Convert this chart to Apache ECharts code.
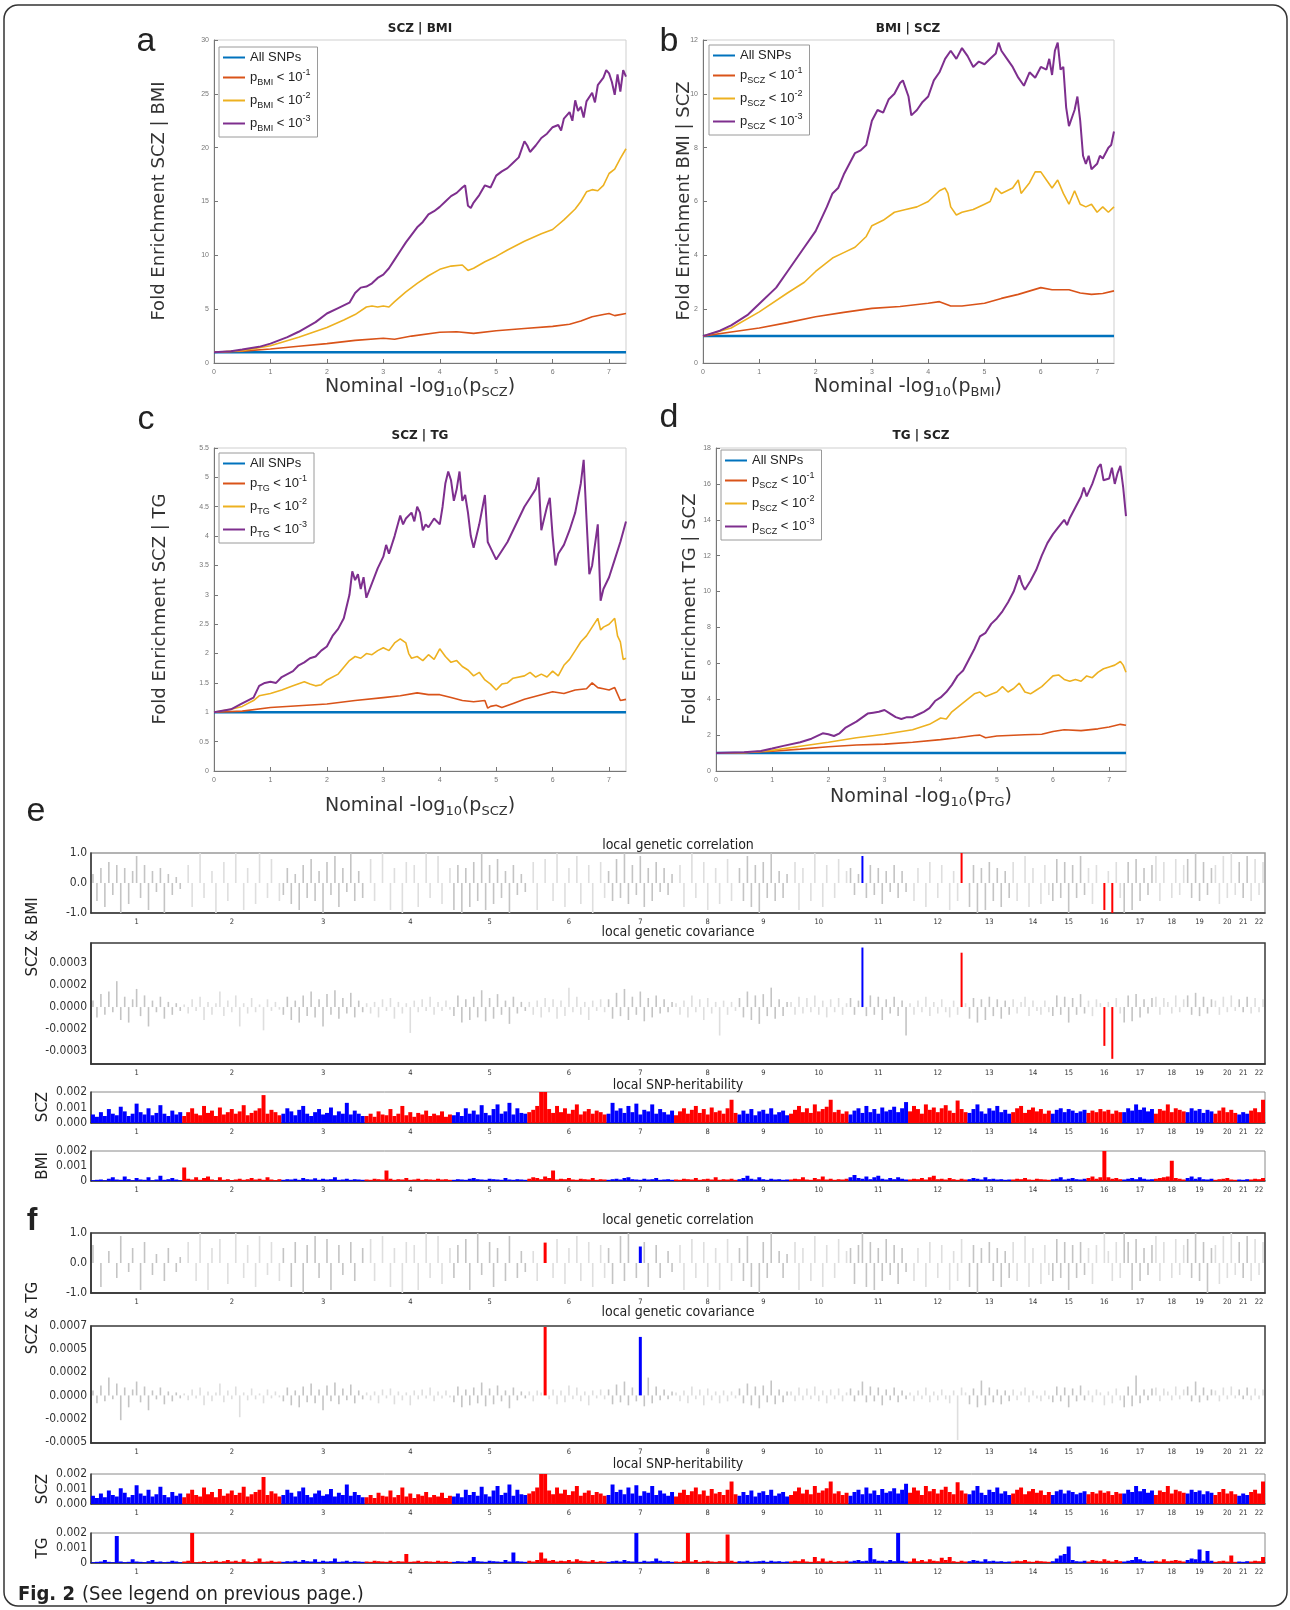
<!DOCTYPE html>
<html>
<head>
<meta charset="utf-8">
<script src="https://cdn.jsdelivr.net/npm/echarts@6/dist/echarts.min.js"></script>
<style>
html,body{margin:0;padding:0;background:#fff;}
#chart{width:1290px;height:1610px;}
</style>
</head>
<body>
<div id="chart"></div>
<script>
// ===== Panels a-d: fold enrichment, points [nominal -log10 p, fold enrichment] =====
const allSNPs = [[0,1],[7.3,1]];

const a_p1 = [[0,1],[0.5,1.1],[1,1.3],[1.5,1.55],[2,1.8],[2.5,2.1],[3,2.3],[3.2,2.2],[3.5,2.5],[4,2.85],[4.3,2.9],[4.6,2.75],[5,3.0],[5.5,3.2],[6,3.4],[6.3,3.6],[6.5,3.9],[6.7,4.3],[6.9,4.5],[7.0,4.6],[7.1,4.4],[7.3,4.6]];
const a_p2 = [[0,1],[0.5,1.15],[1,1.6],[1.5,2.4],[2,3.3],[2.3,4.0],[2.5,4.5],[2.7,5.2],[2.8,5.3],[2.9,5.2],[3.0,5.3],[3.1,5.2],[3.2,5.7],[3.4,6.6],[3.6,7.4],[3.8,8.1],[4.0,8.7],[4.2,9.0],[4.4,9.1],[4.5,8.6],[4.6,8.8],[4.8,9.4],[5.0,9.9],[5.2,10.5],[5.5,11.3],[5.8,12.0],[6.0,12.4],[6.2,13.3],[6.4,14.3],[6.5,15.0],[6.6,15.9],[6.7,16.1],[6.8,16.0],[6.9,16.5],[7.0,17.6],[7.1,18.0],[7.2,19.0],[7.3,19.9]];
const a_p3 = [[0,1],[0.3,1.1],[0.5,1.25],[0.8,1.5],[1,1.8],[1.3,2.4],[1.5,2.9],[1.8,3.8],[2,4.6],[2.2,5.1],[2.4,5.6],[2.5,6.5],[2.6,7.0],[2.7,7.1],[2.8,7.4],[2.9,7.9],[3,8.2],[3.1,8.8],[3.2,9.6],[3.3,10.4],[3.4,11.2],[3.5,11.9],[3.6,12.6],[3.7,13.1],[3.8,13.8],[3.9,14.1],[4,14.5],[4.1,15.0],[4.2,15.5],[4.3,15.8],[4.4,16.3],[4.45,16.5],[4.5,14.6],[4.55,14.4],[4.6,14.9],[4.7,15.6],[4.8,16.5],[4.9,16.3],[5,17.4],[5.1,17.8],[5.2,18.1],[5.3,18.6],[5.4,19.1],[5.5,20.6],[5.55,20.2],[5.6,19.6],[5.7,20.2],[5.8,20.9],[5.9,21.3],[6,21.9],[6.1,22.1],[6.15,21.6],[6.2,22.7],[6.3,23.3],[6.35,22.5],[6.4,24.4],[6.45,23.4],[6.5,23.8],[6.55,22.8],[6.6,24.3],[6.7,25.1],[6.75,24.2],[6.8,25.8],[6.9,26.5],[6.95,27.2],[7.0,26.9],[7.05,26.1],[7.1,24.9],[7.15,26.8],[7.2,25.2],[7.25,27.2],[7.3,26.6]];

const b_p1 = [[0,1],[0.5,1.15],[1,1.3],[1.5,1.5],[2,1.72],[2.5,1.88],[3,2.03],[3.5,2.1],[4,2.22],[4.2,2.28],[4.4,2.12],[4.6,2.12],[5,2.22],[5.3,2.4],[5.6,2.55],[6,2.8],[6.2,2.72],[6.5,2.72],[6.7,2.6],[6.9,2.55],[7.1,2.58],[7.3,2.68]];
const b_p2 = [[0,1],[0.5,1.3],[1,1.9],[1.5,2.6],[1.8,3.0],[2,3.4],[2.3,3.9],[2.5,4.1],[2.7,4.3],[2.9,4.7],[3.0,5.1],[3.2,5.3],[3.4,5.6],[3.6,5.7],[3.8,5.8],[4.0,6.0],[4.2,6.4],[4.3,6.5],[4.35,6.3],[4.4,5.8],[4.5,5.5],[4.6,5.6],[4.8,5.7],[5.0,5.9],[5.1,6.0],[5.2,6.5],[5.3,6.3],[5.5,6.5],[5.6,6.8],[5.65,6.3],[5.8,6.7],[5.9,7.1],[6.0,7.1],[6.1,6.8],[6.2,6.5],[6.3,6.8],[6.4,6.3],[6.5,5.9],[6.6,6.4],[6.7,5.9],[6.8,5.8],[6.9,5.9],[7.0,5.6],[7.1,5.8],[7.2,5.6],[7.3,5.8]];
const b_p3 = [[0,1],[0.3,1.2],[0.5,1.4],[0.8,1.8],[1,2.2],[1.3,2.8],[1.5,3.4],[1.8,4.3],[2,4.9],[2.2,5.8],[2.3,6.3],[2.4,6.5],[2.5,7.0],[2.7,7.8],[2.8,7.9],[2.9,8.1],[3.0,9.0],[3.1,9.4],[3.2,9.3],[3.3,9.8],[3.4,10.0],[3.5,10.4],[3.55,10.5],[3.65,9.9],[3.7,9.2],[3.8,9.4],[3.9,9.7],[4.0,9.9],[4.1,10.5],[4.2,10.8],[4.3,11.3],[4.4,11.6],[4.5,11.3],[4.6,11.7],[4.7,11.4],[4.8,11.0],[4.9,11.2],[5.0,11.1],[5.1,11.3],[5.2,11.5],[5.25,11.9],[5.3,11.6],[5.4,11.3],[5.5,11.0],[5.6,10.6],[5.7,10.3],[5.8,10.8],[5.9,10.6],[6.0,11.0],[6.1,10.9],[6.15,11.3],[6.2,10.7],[6.25,11.6],[6.3,11.9],[6.35,10.9],[6.4,11.0],[6.45,9.5],[6.5,8.8],[6.6,9.4],[6.65,9.9],[6.7,9.0],[6.75,7.7],[6.8,7.4],[6.85,7.7],[6.9,7.2],[7.0,7.4],[7.05,7.7],[7.1,7.6],[7.2,8.0],[7.25,8.1],[7.3,8.6]];

const c_p1 = [[0,1],[0.5,1.02],[1,1.08],[1.5,1.11],[2,1.14],[2.5,1.2],[3,1.25],[3.3,1.28],[3.6,1.33],[3.8,1.3],[4.0,1.3],[4.2,1.25],[4.4,1.2],[4.6,1.18],[4.8,1.2],[4.85,1.07],[4.9,1.1],[5.0,1.12],[5.1,1.08],[5.3,1.15],[5.5,1.22],[5.8,1.3],[6.0,1.35],[6.2,1.32],[6.4,1.38],[6.6,1.4],[6.7,1.5],[6.8,1.42],[6.9,1.4],[7.0,1.38],[7.1,1.42],[7.2,1.2],[7.3,1.22]];
const c_p2 = [[0,1],[0.3,1.05],[0.5,1.1],[0.7,1.2],[0.8,1.28],[1,1.32],[1.2,1.38],[1.4,1.45],[1.6,1.52],[1.7,1.48],[1.8,1.45],[1.9,1.47],[2.0,1.55],[2.2,1.65],[2.4,1.88],[2.5,1.95],[2.6,1.92],[2.7,2.0],[2.8,1.98],[2.9,2.05],[3.0,2.1],[3.1,2.05],[3.2,2.18],[3.3,2.25],[3.4,2.18],[3.45,2.0],[3.5,1.92],[3.6,1.95],[3.7,1.88],[3.8,1.98],[3.9,1.9],[4.0,2.08],[4.1,1.95],[4.2,1.85],[4.3,1.88],[4.4,1.78],[4.5,1.72],[4.6,1.62],[4.7,1.68],[4.8,1.55],[4.9,1.48],[5.0,1.38],[5.1,1.48],[5.2,1.5],[5.3,1.58],[5.5,1.62],[5.6,1.68],[5.7,1.6],[5.8,1.65],[5.9,1.6],[6.0,1.7],[6.1,1.62],[6.2,1.8],[6.3,1.9],[6.4,2.05],[6.5,2.2],[6.6,2.3],[6.7,2.45],[6.8,2.6],[6.85,2.4],[6.9,2.45],[7.0,2.5],[7.1,2.6],[7.15,2.3],[7.2,2.2],[7.25,1.9],[7.3,1.92]];
const c_p3 = [[0,1],[0.3,1.05],[0.5,1.15],[0.7,1.25],[0.8,1.45],[0.9,1.5],[1,1.52],[1.1,1.5],[1.2,1.6],[1.4,1.7],[1.5,1.8],[1.6,1.85],[1.7,1.92],[1.8,1.95],[1.9,2.05],[2,2.12],[2.1,2.3],[2.2,2.42],[2.3,2.6],[2.4,3.0],[2.45,3.4],[2.5,3.25],[2.55,3.35],[2.6,3.1],[2.65,3.3],[2.7,2.95],[2.8,3.2],[2.9,3.45],[3.0,3.65],[3.05,3.85],[3.1,3.7],[3.2,4.0],[3.3,4.35],[3.35,4.2],[3.4,4.3],[3.5,4.4],[3.55,4.25],[3.6,4.5],[3.65,4.4],[3.7,4.1],[3.75,4.2],[3.8,4.15],[3.9,4.3],[4.0,4.2],[4.05,4.5],[4.1,4.9],[4.15,5.1],[4.2,4.95],[4.25,4.6],[4.3,4.8],[4.35,5.1],[4.4,4.6],[4.45,4.7],[4.5,4.4],[4.55,4.0],[4.6,3.8],[4.7,4.2],[4.8,4.7],[4.85,3.9],[4.9,3.8],[5.0,3.6],[5.1,3.75],[5.2,3.9],[5.3,4.1],[5.4,4.3],[5.5,4.5],[5.6,4.65],[5.7,4.8],[5.75,5.0],[5.8,4.1],[5.9,4.5],[5.95,4.65],[6.0,4.0],[6.05,3.5],[6.1,3.7],[6.2,3.85],[6.3,4.1],[6.4,4.4],[6.5,4.9],[6.55,5.3],[6.6,4.3],[6.65,3.35],[6.7,3.5],[6.8,4.2],[6.85,2.9],[6.9,3.1],[7.0,3.3],[7.1,3.6],[7.2,3.9],[7.3,4.25]];

const d_p1 = [[0,1],[0.5,1.02],[1,1.1],[1.5,1.22],[2,1.35],[2.5,1.45],[3,1.5],[3.5,1.6],[4,1.75],[4.3,1.85],[4.6,1.98],[4.7,2.0],[4.8,1.85],[5,1.95],[5.5,2.02],[5.8,2.05],[6,2.2],[6.2,2.3],[6.5,2.25],[6.8,2.35],[7.0,2.45],[7.2,2.6],[7.3,2.55]];
const d_p2 = [[0,1],[0.5,1.02],[1,1.15],[1.5,1.38],[2,1.6],[2.5,1.85],[3,2.05],[3.5,2.3],[3.8,2.6],[4.0,2.95],[4.1,2.9],[4.2,3.3],[4.4,3.8],[4.6,4.3],[4.7,4.4],[4.8,4.15],[5.0,4.4],[5.1,4.7],[5.2,4.4],[5.3,4.6],[5.4,4.9],[5.5,4.4],[5.6,4.3],[5.7,4.5],[5.8,4.7],[5.9,5.0],[6.0,5.3],[6.1,5.35],[6.2,5.1],[6.3,5.0],[6.4,5.1],[6.5,5.0],[6.6,5.3],[6.7,5.2],[6.8,5.5],[6.9,5.7],[7.0,5.8],[7.1,5.9],[7.2,6.1],[7.25,5.9],[7.3,5.5]];
const d_p3 = [[0,1],[0.5,1.05],[0.8,1.12],[1,1.25],[1.2,1.4],[1.5,1.6],[1.7,1.8],[1.9,2.1],[2.0,2.05],[2.1,1.95],[2.2,2.1],[2.3,2.4],[2.5,2.75],[2.7,3.2],[2.8,3.25],[2.9,3.3],[3.0,3.4],[3.1,3.2],[3.2,3.0],[3.3,2.9],[3.4,3.0],[3.5,3.0],[3.6,3.15],[3.7,3.3],[3.8,3.5],[3.9,3.9],[4.0,4.1],[4.1,4.4],[4.2,4.8],[4.3,5.3],[4.4,5.6],[4.5,6.2],[4.6,6.8],[4.7,7.5],[4.8,7.7],[4.9,8.2],[5.0,8.5],[5.1,8.9],[5.2,9.4],[5.3,10.0],[5.4,10.9],[5.45,10.4],[5.5,10.1],[5.6,10.6],[5.7,11.2],[5.8,12.0],[5.9,12.7],[6.0,13.2],[6.1,13.6],[6.2,14.0],[6.25,13.7],[6.3,14.1],[6.4,14.7],[6.5,15.3],[6.55,15.8],[6.6,15.3],[6.7,16.0],[6.8,16.9],[6.85,17.1],[6.9,16.2],[7.0,16.3],[7.05,16.9],[7.1,16.0],[7.15,16.6],[7.2,17.0],[7.25,15.8],[7.3,14.2]];

// ===== Panels e-f: loci along the genome, one inner list per chromosome =====
const chromLabels = ['1','2','3','4','5','6','7','8','9','10','11','12','13','14','15','16','17','18','19','20','21','22'];

// local SNP-heritability SCZ (units of 1e-5)
const h2SCZ_e5 = [
[55,40,70,45,90,60,50,105,75,45,60,125,70,55,95,50,65,115,60,45,80,55,70],
[45,70,95,60,50,110,65,80,45,100,55,70,90,60,75,115,50,65,80,95,180,60,85,70,50],
[60,95,75,50,85,110,60,45,70,90,55,65,100,50,75,60,130,55,80,60,45],
[45,60,40,75,55,50,90,45,60,110,50,70,40,65,55,80,45,60,50,75,40,55],
[50,70,45,95,60,80,55,115,65,50,90,120,60,75,130,55,95,65,60],
[70,85,110,240,200,90,65,110,70,95,60,85,120,55,75,90,60,80,70,55],
[60,130,80,95,65,110,70,125,55,85,75,120,60,90,70,55,80],
[50,75,95,60,85,110,65,90,55,100,70,80,60,95,150,65],
[55,80,60,90,50,75,85,60,95,55,70,80,50],
[60,85,110,70,95,65,120,75,90,105,150,70,85,60,75],
[55,80,95,65,110,70,90,60,100,75,85,105,70,95,135],
[75,110,90,60,120,85,100,70,95,115,80,65,145,90,70],
[65,90,120,75,60,95,80,110,70,85,60],
[70,95,110,65,85,100,75,90,60,80],
[60,85,95,70,90,80,65,75,85],
[65,80,70,90,75,85,60,80,70],
[70,95,80,120,85,100,75,90],
[60,90,80,120,70,95,85,75],
[70,95,80,90,65,85,75],
[60,80,100,70,85,65],
[55,70,60],
[80,95,70,150]];

// local SNP-heritability BMI (units of 1e-5)
const h2BMI_e5 = [
[5,8,10,5,15,25,10,8,30,12,5,20,10,8,25,5,10,35,8,12,20,10,5],
[90,15,10,25,8,20,30,10,5,25,8,12,6,10,15,8,12,20,10,15,8,25,10,6,12],
[8,12,10,15,8,20,12,10,18,8,15,10,12,25,8,10,15,8,12,10,8],
[10,8,15,12,10,70,15,8,12,10,20,8,10,15,8,12,10,8,15,10,12,8],
[8,12,10,8,15,20,12,10,8,15,12,10,8,20,10,8,12,10,8],
[15,25,20,12,30,20,70,10,15,12,20,10,8,15,12,10,20,8,12,10],
[8,12,15,10,20,25,12,10,8,15,10,12,20,8,10,12,8],
[10,8,15,12,10,20,8,12,15,10,25,8,12,10,15,8],
[12,20,35,15,10,25,12,8,15,10,12,8,10],
[10,15,12,25,10,8,20,12,30,10,15,8,12,10,15],
[25,40,20,15,30,12,25,35,15,10,20,12,25,15,10],
[10,15,12,20,10,25,35,12,15,10,20,12,8,15,10],
[12,20,15,10,25,12,15,10,12,8,10],
[10,15,12,20,10,8,15,12,10,8],
[12,15,25,10,15,20,12,10,15],
[20,30,15,25,200,25,15,20,12],
[10,15,20,12,25,15,10,12],
[15,20,25,30,135,20,15,10],
[20,30,15,25,12,10,15],
[8,12,15,20,10,8],
[10,8,12],
[10,15,12,20]];

// local SNP-heritability TG (units of 1e-5)
const h2TG_e5 = [
[5,8,10,20,8,5,180,10,5,8,25,10,8,5,12,20,8,10,5,8,15,10,5],
[10,15,205,5,8,12,6,10,15,8,12,20,10,15,8,25,10,6,12,30,8,10,15,8,10],
[8,12,10,15,8,20,12,10,25,8,15,10,12,30,8,10,15,8,12,10,8],
[10,8,15,12,10,8,15,8,12,10,60,8,10,15,8,12,10,8,15,10,12,8],
[8,12,10,8,15,40,12,10,8,15,12,10,8,20,10,70,12,10,8],
[15,10,20,70,30,15,20,10,15,12,20,10,25,15,12,10,20,8,12,10],
[8,12,15,10,20,12,10,200,8,15,10,12,30,15,10,12,8],
[10,8,15,200,10,20,8,12,15,10,8,12,10,190,15,8],
[12,10,15,8,10,12,15,8,15,10,12,8,10],
[10,15,12,25,10,8,40,12,30,10,15,8,12,10,15],
[10,15,20,12,15,100,25,15,15,10,20,12,200,15,10],
[10,30,12,20,10,25,15,12,35,20,40,12,8,15,10],
[12,20,15,10,25,12,15,10,12,8,10],
[10,15,12,20,10,8,15,12,10,8],
[12,30,50,60,110,20,12,10,15],
[10,20,15,12,25,15,10,20,12],
[10,15,20,40,25,15,10,12],
[15,10,25,12,15,20,15,10],
[20,30,25,90,15,80,15],
[8,12,15,10,50,8],
[10,8,12],
[10,15,12,40]];

// local genetic correlation SCZ & BMI
const corrE = [
[.3,-.6,.5,-.8,.7,-.4,.6,-1,.5,-.7,.4,.9,-.5,.6,-.9,.4,-.3,.5,-1,.3,-.4,.2,-.2],
[0,.6,-.8,0,1,-.5,0,.4,-1,0,.7,-.6,0,1,0,-.9,.5,0,-.7,1,0,-.5,.8,0,-.6],
[-.4,.5,-.7,.3,-.9,.6,-.5,.8,-.6,.4,-1,.7,-.4,.9,-.8,.5,-.3,1,-.6,.4,-.5],
[0,.8,-.6,0,1,0,-.9,.5,0,-1,.7,0,.6,-.8,0,1,-.5,0,.9,-.7,0,.5],
[-.9,.6,-1,.5,-.8,.7,-.6,1,-.9,.6,-.7,.8,-.5,.4,-1,.6,-.4,.3,-.3],
[0,.7,-.9,0,.8,0,-.6,1,0,-.8,.5,0,.9,-.7,0,.6,-1,0,.7,-.5],
[.4,-.6,.8,-.5,1,-.7,.6,-.4,.9,-.8,.5,-.6,.7,-.3,.5,-.4,.3],
[0,.6,-.8,0,1,-.5,0,.7,-.9,0,.5,-.7,0,.8,-.6,0],
[.5,-.6,.9,-.8,.6,-1,.7,-.5,1,-.6,.4,-.5,.3],
[0,.7,-.9,.5,0,-.6,1,0,-.8,.6,0,-.5,.8,0,.4],
[.5,-.4,.3,.9,-.5,.6,-.4,.5,-.7,.4,-.3,.6,-.5,.4,-.3],
[0,-.6,.5,0,-.8,.7,0,-.5,.6,0,-.9,.4,-.6,1,0],
[-.8,.6,-1,.5,-.9,.7,-.6,.5,-.8,.4,-.5],
[.7,-.6,0,.9,-.8,.5,0,-.7,.6,-.4],
[-.6,.8,-.5,.7,-1,.6,-.5,.9,-.4],
[.5,-.7,.6,0,-.9,.4,-1,.7,-.5],
[-1,.7,-.9,.8,-.6,.5,-.4,.6],
[.9,-.6,.7,0,-.5,.8,-.4,.6],
[.8,-.5,1,-.6,.7,-.4,.5],
[.6,-.7,.9,-.5,1,-.4],
[.7,-.5,.9],
[-.6,.8,-.4,.7]];

// local genetic covariance SCZ & BMI (units of 1e-5)
const covE_e5 = [
[5,-8,10,-6,12,-4,20,-10,8,-12,6,14,-7,9,-15,5,-4,8,-9,4,-6,3,-3],
[2,-5,6,-3,8,-10,4,-6,3,12,-7,5,-4,9,-15,3,-5,7,-4,2,-18,6,-3,4,-2],
[-6,8,-10,5,-12,9,-7,12,-8,6,-15,10,-6,13,-9,7,-5,11,-8,5,-4],
[3,-5,4,-8,6,-3,7,-9,4,-5,3,-20,5,-4,6,-3,8,-6,4,-3,5,-2],
[-7,9,-12,6,-10,8,-8,13,-11,7,-9,10,-6,5,-13,8,-5,4,-3],
[4,-6,5,-8,7,-4,6,-9,5,-7,15,-4,8,-6,4,-10,5,-3,6,-4],
[6,-9,11,-7,14,-10,8,-6,12,-11,7,-8,9,-5,6,-4,4],
[3,-6,5,-8,9,-4,6,-10,7,-5,4,-22,5,-6,4,-3],
[7,-8,12,-10,9,-13,10,-7,15,-9,6,-7,4],
[4,-6,8,-5,7,-4,9,-6,5,-8,6,-4,7,-6,3],
[7,-6,5,46,-7,9,-6,8,-10,6,-5,8,-7,5,-22],
[3,-6,5,-4,8,-7,4,-5,6,-4,-8,5,-6,42,3],
[-9,7,-12,6,-10,8,-7,6,-9,5,-6],
[6,-5,4,8,-7,5,-3,-6,5,-4],
[-7,9,-6,8,-12,7,-6,10,-5],
[5,-7,6,3,-30,4,-40,7,-5],
[-12,9,-11,10,-8,6,-5,7],
[8,-6,7,4,-5,9,-4,6],
[9,-6,11,-7,8,-5,6],
[5,-6,8,-4,9,-3],
[6,-4,8],
[-5,7,-4,6]];

// local genetic correlation SCZ & TG
const corrF = [
[.6,0,-.8,0,.4,0,-.5,.9,0,-.3,.5,0,-.9,.7,0,-.4,.3,0,-.6,.5,0,-.3,.2],
[0,.7,0,-.6,1,0,-.9,.5,0,.8,0,-.7,0,1,0,-.5,.6,0,-.8,.9,0,-.4,.7,0,-.6],
[.5,0,-.8,.7,0,-1,.6,0,.9,-.5,0,.8,-.9,0,.6,-.4,0,.7,-.6,0,.5],
[0,.8,-.6,0,.9,0,-.8,.5,0,-1,.7,0,.6,-.9,0,1,-.5,0,.9,-.7,0,.5],
[-.5,.6,0,.8,-.9,0,1,-.4,0,.7,-.8,.5,0,-.6,.9,0,-.5,.4,-.3],
[0,.4,-.6,0,.68,0,-.5,.8,0,-.7,.5,0,.9,-.6,0,.7,-.8,0,.6,-.5],
[.5,-.7,0,.9,-.6,1,0,-.5,.55,.7,-.8,0,.6,-.5,0,.4,-.3],
[0,.6,-.9,0,.8,-.5,0,.7,-.8,0,.5,-.9,0,.8,-.6,0],
[.5,-.6,.9,-.8,0,-1,.7,-.5,1,0,.4,-.5,.3],
[0,.7,-.9,.5,0,-.6,.9,0,-.8,.6,0,-.5,.8,0,.4],
[.5,-.7,.6,1,-.8,.7,-.9,.5,-.6,.8,-.4,.6,-.7,.5,-.3],
[0,-.6,.5,0,-.8,.7,0,-.5,.6,0,-.9,.4,-.6,.8,0],
[-.8,.6,-1,.5,0,.7,-.6,.5,-.8,.4,-.5],
[.7,-.6,0,.9,-.8,.5,0,-.7,.6,-.4],
[-.6,.8,-.5,.7,-.9,.6,-.5,.7,-.4],
[.5,-.7,.6,0,1,.4,-.6,.7,-.5],
[1,.7,-.9,.8,-.6,.5,-.4,.6],
[.9,-.6,.7,0,-.5,.8,-.4,.6],
[.8,-.5,1,-.6,.7,-1,.5],
[.6,-.7,.9,-.5,1,-.4],
[.7,-.5,.9],
[-.6,.8,-.4,.7]];

// local genetic covariance SCZ & TG (units of 1e-5)
const covF_e5 = [
[5,-8,10,-6,18,-4,12,-25,8,-12,6,14,-7,9,-15,5,-4,8,-9,4,-6,3,-3],
[2,-5,6,-3,8,-10,4,-6,3,12,-7,5,-4,9,-22,3,-5,7,-4,2,-8,6,-3,4,-2],
[-6,8,-10,5,-12,9,-7,12,-8,6,-15,10,-6,13,-9,7,-5,11,-8,5,-4],
[3,-5,4,-8,6,-3,7,-9,4,-5,3,-10,5,-4,6,-3,8,-6,4,-3,5,-2],
[-7,9,-12,6,-10,8,-8,13,-11,7,-9,10,-6,5,-13,8,-5,4,-3],
[4,-6,5,3,69,-4,6,-9,5,-7,10,-4,8,-6,4,-10,5,-3,6,-4],
[6,-9,11,-7,14,-10,8,-6,59,-11,18,-8,9,-5,6,-4,4],
[3,-6,5,-8,9,-4,6,-10,7,-5,4,-8,5,-6,4,-3],
[7,-8,12,-10,9,-13,10,-7,15,-9,6,-7,4],
[4,-6,8,-5,7,-4,9,-6,5,-8,6,-4,7,-6,3],
[7,-6,5,14,-7,9,-6,8,-10,6,-5,8,-7,5,-4],
[3,-6,5,-4,8,-7,4,-5,6,-4,-8,5,-45,8,3],
[-9,7,-12,15,-10,8,-7,6,-9,5,-6],
[6,-5,4,8,-7,5,-3,-6,5,-4],
[-7,9,-6,8,-12,7,-6,10,-5],
[5,-7,6,3,-10,4,-8,7,-5],
[-12,9,-11,20,-8,6,-5,7],
[8,-6,7,4,-5,9,-4,6],
[9,-6,14,-7,8,-5,6],
[5,-6,8,-4,9,-3],
[6,-4,8],
[-5,7,-4,6]];

// significant loci: [chromosome, position within chromosome]
const sigE = [[11,3],[12,13],[16,4],[16,6]];
const sigF = [[6,4],[7,8]];

// ================= build =================
const CONDF = '"DejaVu Sans Condensed","Liberation Sans Narrow","DejaVu Sans",sans-serif';
const grids = [], xAxes = [], yAxes = [], series = [], legends = [], graphics = [];

// ---- line panels ----
const LINE_COLORS = ['#0072BD','#D95319','#EDB120','#7E2F8E'];
const LINE_WIDTHS = [2.5,1.6,1.6,2];
const linePanels = [
  {grid:{left:214,top:40,width:412,height:323}, yMax:30, yInt:5, data:[allSNPs,a_p1,a_p2,a_p3], cond:'BMI', legend:{left:219,top:47}},
  {grid:{left:703,top:40,width:411,height:323}, yMax:12, yInt:2, data:[allSNPs,b_p1,b_p2,b_p3], cond:'SCZ', legend:{left:709,top:45}},
  {grid:{left:214,top:448,width:412,height:323}, yMax:5.5, yInt:0.5, data:[allSNPs,c_p1,c_p2,c_p3], cond:'TG', legend:{left:219,top:453}},
  {grid:{left:716,top:448,width:410,height:323}, yMax:18, yInt:2, data:[allSNPs,d_p1,d_p2,d_p3], cond:'SCZ', legend:{left:721,top:450}}
];
const LF = '"Liberation Sans",Arial,sans-serif';
const legRich = {
  i:{fontSize:13, lineHeight:19, color:'#222', fontFamily:LF},
  sb:{fontSize:9, lineHeight:9, verticalAlign:'bottom', color:'#222', fontFamily:LF},
  sp:{fontSize:9, lineHeight:9, verticalAlign:'top', color:'#222', fontFamily:LF}
};
linePanels.forEach((p, pi) => {
  const gi = grids.length;
  grids.push(Object.assign({show:true, borderColor:'#cfcfcf', borderWidth:1}, p.grid));
  const xi = xAxes.length;
  xAxes.push({type:'value', gridIndex:gi, min:0, max:7.3, interval:1,
    axisLine:{show:true, onZero:false, lineStyle:{color:'#777'}},
    axisTick:{show:true, inside:true, length:4, lineStyle:{color:'#777'}},
    axisLabel:{fontSize:7, color:'#777', margin:6, showMaxLabel:false},
    splitLine:{show:false}});
  const yi = yAxes.length;
  yAxes.push({type:'value', gridIndex:gi, min:0, max:p.yMax, interval:p.yInt,
    axisLine:{show:true, onZero:false, lineStyle:{color:'#777'}},
    axisTick:{show:true, inside:true, length:4, lineStyle:{color:'#777'}},
    axisLabel:{fontSize:7, color:'#777', margin:5},
    splitLine:{show:false}});
  const names = [];
  p.data.forEach((d, k) => {
    const nm = 'L' + pi + '_' + k;
    names.push(nm);
    series.push({type:'line', name:nm, xAxisIndex:xi, yAxisIndex:yi, data:d, symbol:'none', showSymbol:false,
      lineStyle:{color:LINE_COLORS[k], width:LINE_WIDTHS[k]}, itemStyle:{color:LINE_COLORS[k]}, z:k===0?2:3, silent:true});
  });
  legends.push({orient:'vertical', left:p.legend.left, top:p.legend.top, data:names, selectedMode:false,
    icon:'rect', itemWidth:22, itemHeight:2, itemGap:4, padding:[4,7,4,4],
    backgroundColor:'#fff', borderColor:'#9a9a9a', borderWidth:1,
    formatter:(name) => {
      const k = +name.split('_')[1];
      return k === 0 ? '{i|All SNPs}' : '{i|p}{sb|' + p.cond + '}{i| < 10}{sp|-' + k + '}';
    },
    textStyle:{rich:legRich, fontSize:13, color:'#222'}});
});

// ---- genome panels ----
const chromBars = h2SCZ_e5.map(c => c.length);
const chromOf = [], chromStart = [];
chromBars.forEach((n, ci) => { chromStart.push(chromOf.length); for (let k = 0; k < n; k++) chromOf.push(ci); });
const cats = chromOf.map((c, i) => String(i));
const centerLabel = {};
chromBars.forEach((n, ci) => { centerLabel[chromStart[ci] + Math.floor(n / 2)] = chromLabels[ci]; });
function flat(nested, scale) {
  const out = [];
  chromBars.forEach((n, ci) => {
    for (let k = 0; k < n; k++) {
      const v = nested[ci] ? nested[ci][k] : undefined;
      out.push(v === undefined ? null : v * scale);
    }
  });
  return out;
}
function sigIdx(list) { return list.map(([c, k]) => chromStart[c - 1] + k); }

const fmtH2 = v => v.toFixed(3);
const fmtH2b = v => v === 0 ? '0' : v.toFixed(3);
const genomePanels = [
  {top:853, height:60, vals:corrE, scale:1, kind:'gen', sig:sigE, sigW:2, border:'#9a9a9a', y:{min:-1, max:1, ticks:[-1,0,1], fmt:v=>v.toFixed(1)}},
  {top:943, height:121, vals:covE_e5, scale:1e-5, kind:'gen', sig:sigE, sigW:2, border:'#3a3a3a', y:{min:-0.00044, max:0.000495, ticks:[-0.00034,-0.00017,0,0.00017,0.00034], fmt:v=>v.toFixed(4)}},
  {top:1092, height:31, vals:h2SCZ_e5, scale:1e-5, kind:'h2', border:'#8a8a8a', y:{min:0, max:0.002, ticks:[0,0.001,0.002], fmt:fmtH2}},
  {top:1151, height:30, vals:h2BMI_e5, scale:1e-5, kind:'h2', border:'#8a8a8a', y:{min:0, max:0.002, ticks:[0,0.001,0.002], fmt:fmtH2b}},
  {top:1233, height:60, vals:corrF, scale:1, kind:'gen', sig:sigF, sigW:3, border:'#3a3a3a', y:{min:-1, max:1, ticks:[-1,0,1], fmt:v=>v.toFixed(1)}},
  {top:1326, height:117, vals:covF_e5, scale:1e-5, kind:'gen', sig:sigF, sigW:3, border:'#3a3a3a', y:{min:-0.00048, max:0.0007, ticks:[-0.000467,-0.000233,0,0.000233,0.000467,0.0007], fmt:v=>v.toFixed(4)}},
  {top:1474, height:30, vals:h2SCZ_e5, scale:1e-5, kind:'h2', border:'#8a8a8a', y:{min:0, max:0.002, ticks:[0,0.001,0.002], fmt:fmtH2}},
  {top:1533, height:30, vals:h2TG_e5, scale:1e-5, kind:'h2', border:'#8a8a8a', y:{min:0, max:0.002, ticks:[0,0.001,0.002], fmt:fmtH2b}}
];
genomePanels.forEach(p => {
  const gi = grids.length;
  grids.push({left:91, width:1174, top:p.top, height:p.height, show:true,
    borderColor:p.border, borderWidth: p.kind === 'h2' ? 1 : 1.5});
  const xi = xAxes.length;
  xAxes.push({type:'category', gridIndex:gi, data:cats, boundaryGap:true,
    axisLine:{show:true, onZero:false, lineStyle:{color:'#333', width:1.5}},
    axisTick:{show:false},
    axisLabel:{interval:(i) => centerLabel[i] !== undefined, formatter:(v) => centerLabel[+v] || '',
      fontSize:7.5, color:'#333', margin:5, fontFamily:CONDF},
    splitLine:{show:false}});
  const yi = yAxes.length;
  yAxes.push({type:'value', gridIndex:gi, min:p.y.min, max:p.y.max,
    axisLine:{show:true, onZero:false, lineStyle:{color:'#333', width:1.5}}, axisTick:{show:false}, splitLine:{show:false},
    axisLabel:{customValues:p.y.ticks, formatter:p.y.fmt, fontSize:12, color:'#333', margin:4, fontFamily:CONDF}});
  const vals = flat(p.vals, p.scale);
  if (p.kind === 'h2') {
    series.push({type:'bar', xAxisIndex:xi, yAxisIndex:yi, barWidth:'100%', silent:true,
      data: vals.map((v, i) => ({value: v === null ? '-' : v, itemStyle:{color: chromOf[i] % 2 === 0 ? '#0000ff' : '#ff0000'}}))});
  } else {
    const sig = new Set(sigIdx(p.sig));
    series.push({type:'bar', xAxisIndex:xi, yAxisIndex:yi, barWidth:1.6, silent:true,
      data: vals.map((v, i) => ({value: (sig.has(i) || v === null) ? '-' : v, itemStyle:{color: chromOf[i] % 2 === 0 ? '#c4c4c4' : '#dedede'}}))});
    const xs = xAxes.length;
    xAxes.push({type:'category', gridIndex:gi, data:cats, boundaryGap:true, show:false});
    series.push({type:'bar', xAxisIndex:xs, yAxisIndex:yi, barWidth:p.sigW, silent:true, z:5,
      data: vals.map((v, i) => sig.has(i) ? {value:v, itemStyle:{color: chromOf[i] % 2 === 0 ? '#0000ff' : '#ff0000'}} : '-')});
  }
});

// ---- texts ----
function txt(x, y, text, font, extra) {
  extra = extra || {};
  const el = {type:'text', x:x, y:y, silent:true, z:50,
    style:{text:text, font:font, fill:extra.fill || '#222', textAlign:extra.align || 'center', textVerticalAlign:'middle'}};
  if (extra.rot) el.rotation = extra.rot;
  if (extra.rich) el.style.rich = extra.rich;
  return el;
}
graphics.push({type:'rect', silent:true, z:0, shape:{x:4, y:5, width:1283, height:1601, r:14}, style:{fill:'none', stroke:'#333', lineWidth:1.5}});
const LETTER = 'normal 34px "Liberation Sans",Arial,sans-serif';
graphics.push(txt(146, 42, 'a', LETTER), txt(669, 42, 'b', LETTER), txt(146, 420, 'c', LETTER), txt(669, 418, 'd', LETTER), txt(36, 812, 'e', LETTER));
graphics.push(txt(32, 1221, 'f', 'bold 32px "Liberation Sans",Arial,sans-serif'));
const PT = 'bold 12px "DejaVu Sans",sans-serif';
graphics.push(txt(420, 29, 'SCZ | BMI', PT), txt(908, 29, 'BMI | SCZ', PT), txt(420, 436, 'SCZ | TG', PT), txt(921, 436, 'TG | SCZ', PT));
const YL = '18px "DejaVu Sans",sans-serif';
graphics.push(txt(159, 201, 'Fold Enrichment SCZ | BMI', YL, {rot:Math.PI/2, fill:'#333'}),
  txt(684, 201, 'Fold Enrichment BMI | SCZ', YL, {rot:Math.PI/2, fill:'#333'}),
  txt(160, 609, 'Fold Enrichment SCZ | TG', YL, {rot:Math.PI/2, fill:'#333'}),
  txt(690, 609, 'Fold Enrichment TG | SCZ', YL, {rot:Math.PI/2, fill:'#333'}));
const xRich = {
  n:{fontSize:19, lineHeight:24, fontFamily:'"DejaVu Sans",sans-serif', fill:'#333', color:'#333'},
  s:{fontSize:13, lineHeight:12, verticalAlign:'bottom', fontFamily:'"DejaVu Sans",sans-serif', fill:'#333', color:'#333'}
};
const xlab = s => '{n|Nominal -log}{s|10}{n|(p}{s|' + s + '}{n|)}';
graphics.push(txt(420, 387, xlab('SCZ'), YL, {rich:xRich}), txt(908, 387, xlab('BMI'), YL, {rich:xRich}),
  txt(420, 806, xlab('SCZ'), YL, {rich:xRich}), txt(921, 797, xlab('TG'), YL, {rich:xRich}));
const GT = '14px ' + CONDF;
graphics.push(txt(678, 845, 'local genetic correlation', GT), txt(678, 932, 'local genetic covariance', GT), txt(678, 1085, 'local SNP-heritability', GT),
  txt(678, 1220, 'local genetic correlation', GT), txt(678, 1312, 'local genetic covariance', GT), txt(678, 1464, 'local SNP-heritability', GT));
const RL = '15px "DejaVu Sans",sans-serif';
graphics.push(txt(33, 937, 'SCZ & BMI', RL, {rot:Math.PI/2}), txt(43, 1107, 'SCZ', RL, {rot:Math.PI/2}), txt(43, 1166, 'BMI', RL, {rot:Math.PI/2}),
  txt(33, 1318, 'SCZ & TG', RL, {rot:Math.PI/2}), txt(43, 1489, 'SCZ', RL, {rot:Math.PI/2}), txt(43, 1548, 'TG', RL, {rot:Math.PI/2}));
graphics.push(txt(18, 1595, 'Fig. 2', 'bold 20px ' + CONDF, {align:'left'}),
  txt(82, 1595, '(See legend on previous page.)', '20px ' + CONDF, {align:'left'}));

const chart = echarts.init(document.getElementById('chart'), null, {renderer:'canvas'});
chart.setOption({
  animation:false,
  backgroundColor:'#fff',
  textStyle:{fontFamily:LF},
  grid:grids, xAxis:xAxes, yAxis:yAxes, series:series, legend:legends, graphic:graphics
});
</script>
</body>
</html>
